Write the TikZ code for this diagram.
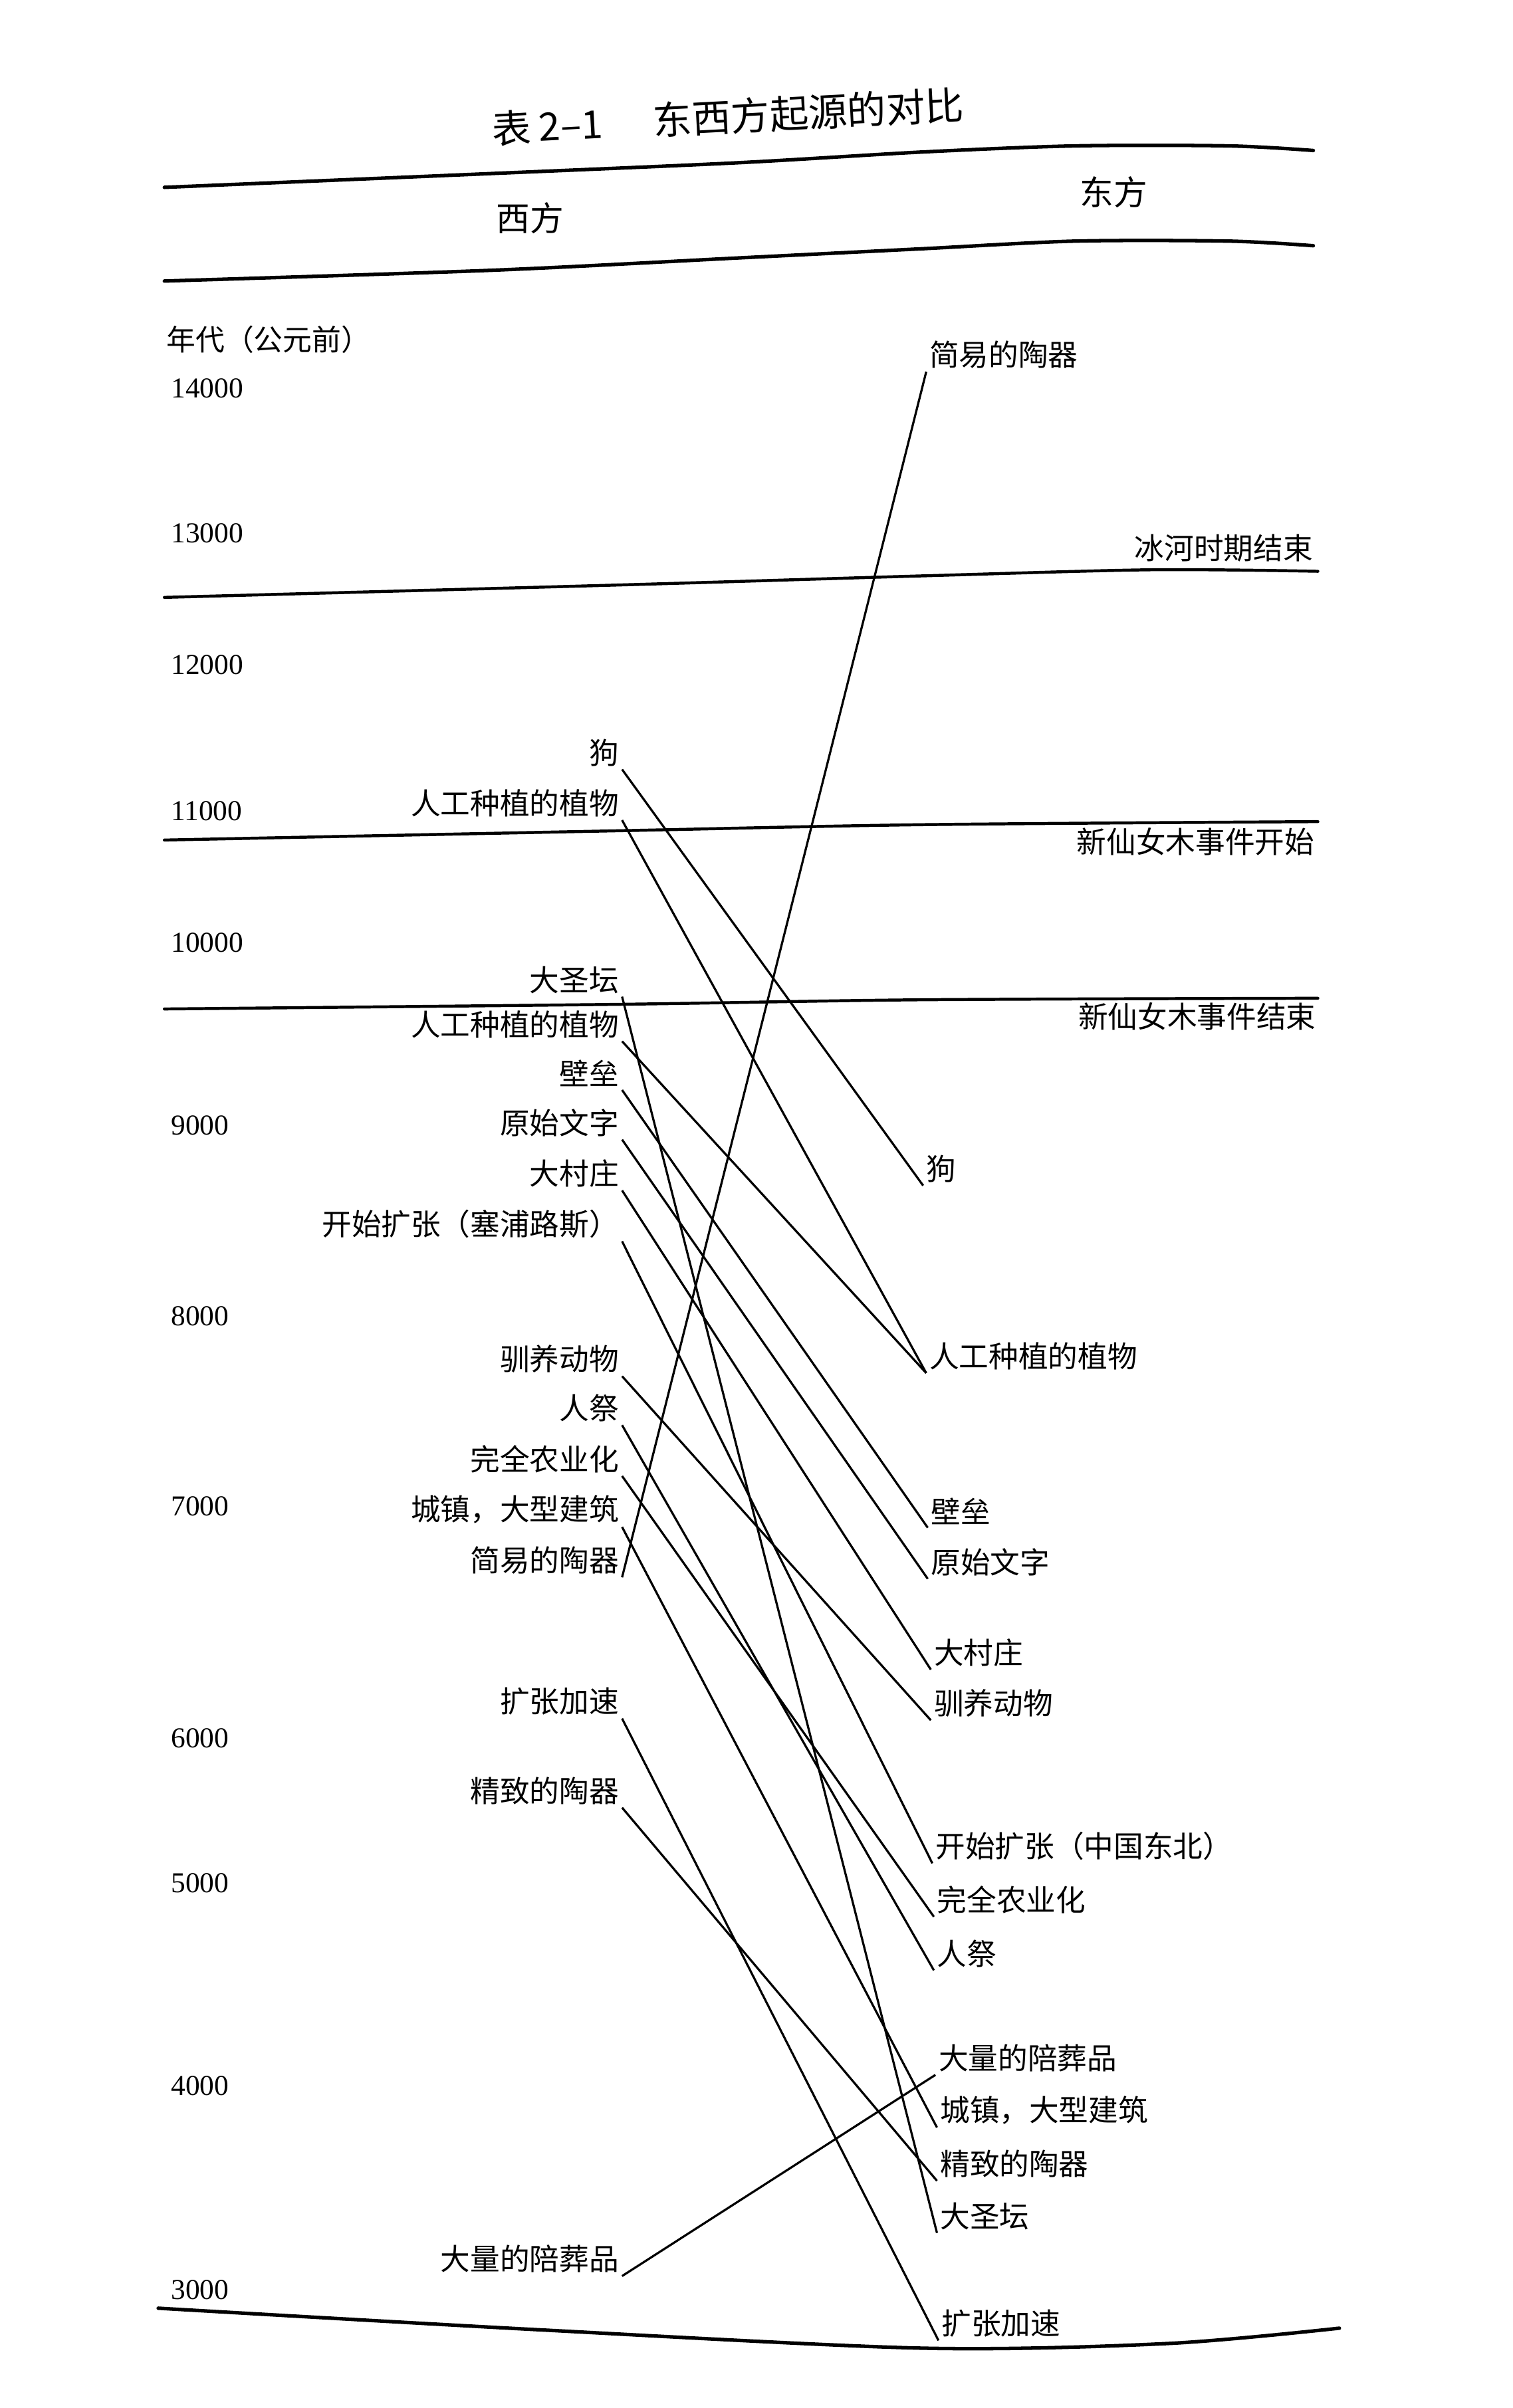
\documentclass[tikz,border=0pt]{standalone}
\usepackage{fontspec}
\setmainfont{Liberation Serif}
\newfontfamily\cjk{Noto Sans CJK SC}
\usetikzlibrary{positioning}
\tikzset{
  rulel/.style={line width=1.3pt, line cap=round},
  link/.style={line width=0.8pt},
  westlbl/.style={anchor=east, inner sep=1pt, font=\cjk\fontsize{11}{13}\selectfont},
  eastlbl/.style={anchor=west, inner sep=1pt, font=\cjk\fontsize{11}{13}\selectfont},
  eventlbl/.style={anchor=east, inner sep=0pt, font=\cjk\fontsize{11}{13}\selectfont},
  headlbl/.style={inner sep=0pt, font=\cjk\fontsize{12.5}{14}\selectfont},
  yearlbl/.style={anchor=west, inner sep=0pt, font=\fontsize{10.7}{12}\selectfont},
}

\begin{document}
\begin{tikzpicture}[x=0.02cm, y=-0.02cm]
  \useasboundingbox (0,0) rectangle (985,1568);
  % title and header rules
  \node[headlbl, font=\cjk\fontsize{14.4}{16}\selectfont, rotate=3] (title) at (474,76)
    {表\hspace{0.2em}2–1\hspace{1.3em}东西方起源的对比};
  \draw[rulel] plot[smooth] coordinates {(107,122) (320,113) (480,106) (600,99) (700,95) (800,95) (855,98)};
  \draw[rulel] plot[smooth] coordinates {(107,183) (320,176) (480,168) (600,162) (700,157) (800,157) (855,160)};
  \node[headlbl] (west) at (345,142) {西方};
  \node[headlbl] (east) at (725,125) {东方};
  % event rules
  \draw[rulel, line width=1.1pt] plot[smooth] coordinates {(107,389) (400,381) (600,375) (750,371) (858,372)};
  \draw[rulel, line width=1.1pt] plot[smooth] coordinates {(107,547) (400,541) (600,537) (858,535)};
  \draw[rulel, line width=1.1pt] plot[smooth] coordinates {(107,657) (400,654) (600,651) (858,650)};
  \draw[rulel] plot[smooth] coordinates {(103,1503) (350,1517) (600,1529) (760,1526) (872,1516)};
  \node[eventlbl] (iceend) at (855,357) {冰河时期结束};
  \node[eventlbl] (ydstart) at (856,548) {新仙女木事件开始};
  \node[eventlbl] (ydend) at (857,662) {新仙女木事件结束};
  % years
  \node[yearlbl, font=\cjk\fontsize{10.8}{12}\selectfont] (era) at (108,221) {年代（公元前）};
  \foreach \yr/\yy in {14000/253, 13000/347, 12000/433, 11000/528, 10000/614,
                       9000/733, 8000/857, 7000/981, 6000/1132, 5000/1226,
                       4000/1358, 3000/1491}
    \node[yearlbl] (y\yr) at (111,\yy) {\yr};
  % west
  \node[westlbl] (wdog) at (405,490) {狗};
  \node[westlbl] (wplanta) at (405,523) {人工种植的植物};
  \node[westlbl] (waltar) at (405,638) {大圣坛};
  \node[westlbl] (wplantb) at (405,667) {人工种植的植物};
  \node[westlbl] (wwall) at (405,699) {壁垒};
  \node[westlbl] (wscript) at (405,731) {原始文字};
  \node[westlbl] (wvillage) at (405,764) {大村庄};
  \node[westlbl] (wexpand) at (405,797) {开始扩张（塞浦路斯）};
  \node[westlbl] (wanimal) at (405,885) {驯养动物};
  \node[westlbl] (wsacri) at (405,917) {人祭};
  \node[westlbl] (wfarm) at (405,950) {完全农业化};
  \node[westlbl] (wtown) at (405,983) {城镇，大型建筑};
  \node[westlbl] (wpot) at (405,1016) {简易的陶器};
  \node[westlbl] (wfast) at (405,1108) {扩张加速};
  \node[westlbl] (wfine) at (405,1166) {精致的陶器};
  \node[westlbl] (wgrave) at (405,1471) {大量的陪葬品};
  % east
  \node[eastlbl] (epot) at (603,231) {简易的陶器};
  \node[eastlbl] (edog) at (601,761) {狗};
  \node[eastlbl] (eplant) at (603,883) {人工种植的植物};
  \node[eastlbl] (ewall) at (604,984) {壁垒};
  \node[eastlbl] (escript) at (604,1017) {原始文字};
  \node[eastlbl] (evillage) at (606,1076) {大村庄};
  \node[eastlbl] (eanimal) at (606,1109) {驯养动物};
  \node[eastlbl] (eexpand) at (607,1202) {开始扩张（中国东北）};
  \node[eastlbl] (efarm) at (608,1237) {完全农业化};
  \node[eastlbl] (esacri) at (608,1272) {人祭};
  \node[eastlbl] (egrave) at (609,1340) {大量的陪葬品};
  \node[eastlbl] (etown) at (610,1374) {城镇，大型建筑};
  \node[eastlbl] (efine) at (610,1409) {精致的陶器};
  \node[eastlbl] (ealtar) at (610,1443) {大圣坛};
  \node[eastlbl] (efast) at (611,1513) {扩张加速};
  % links
  \foreach \a/\b in {wdog/edog, wplanta/eplant, waltar/ealtar, wplantb/eplant,
                     wwall/ewall, wscript/escript, wvillage/evillage, wexpand/eexpand,
                     wanimal/eanimal, wsacri/esacri, wfarm/efarm, wtown/etown,
                     wpot/epot, wfast/efast, wfine/efine, wgrave/egrave}
    \draw[link] (\a.south east) -- (\b.south west);
\end{tikzpicture}
\end{document}
